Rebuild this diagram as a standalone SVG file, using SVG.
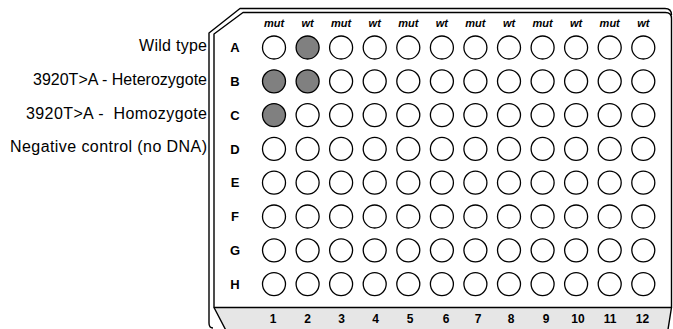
<svg xmlns="http://www.w3.org/2000/svg" width="673" height="329" viewBox="0 0 673 329">
<style>
.frame{fill:none;stroke:#000;stroke-width:1.4;stroke-linejoin:round}
.w{fill:#fff;stroke:#000;stroke-width:1.3}
.f{fill:#808080;stroke:#000;stroke-width:1.3}
.lab{font-family:"Liberation Sans",Arial,sans-serif;font-size:16px;fill:#000;text-anchor:end;white-space:pre}
.row{font-family:"Liberation Sans",Arial,sans-serif;font-size:13px;font-weight:bold;fill:#000;text-anchor:middle}
.col{font-family:"Liberation Sans",Arial,sans-serif;font-size:12px;font-weight:bold;fill:#000;text-anchor:middle}
.gt{font-family:"Liberation Sans",Arial,sans-serif;font-size:11px;font-weight:bold;font-style:italic;fill:#000;text-anchor:middle}
</style>
<rect width="673" height="329" fill="#fff"/>
<g id="plate">
<polygon points="214,307.5 671.5,307.5 668,329 225.5,329" fill="#e6e6e6"/>
<path class="frame" d="M213,328 Q209,328 209,323 L209,33 L240,8.5 L665,8.5 Q671.5,8.5 671.5,15"/>
<path class="frame" d="M214,307.5 L214,34 L243,12.5 L665.5,12.5 Q671.5,12.5 671.5,18.5 L671.5,307.5 Z"/>
<path class="frame" d="M214,307.5 L225.5,329.5 M671.5,307.5 L668,329.5"/>
</g>
<g id="sample-labels">
<text class="lab" x="207" y="51" textLength="68">Wild type</text>
<text class="lab" x="207" y="85" textLength="174">3920T&gt;A - Heterozygote</text>
<text class="lab" x="207" y="118.5" textLength="181">3920T&gt;A -  Homozygote</text>
<text class="lab" x="207" y="152" textLength="197">Negative control (no DNA)</text>
</g>
<g id="genotype-labels">
<text class="gt" x="274" y="26.5">mut</text>
<text class="gt" x="307.6" y="26.5">wt</text>
<text class="gt" x="341.1" y="26.5">mut</text>
<text class="gt" x="374.7" y="26.5">wt</text>
<text class="gt" x="408.3" y="26.5">mut</text>
<text class="gt" x="441.9" y="26.5">wt</text>
<text class="gt" x="475.4" y="26.5">mut</text>
<text class="gt" x="509" y="26.5">wt</text>
<text class="gt" x="542.6" y="26.5">mut</text>
<text class="gt" x="576.1" y="26.5">wt</text>
<text class="gt" x="609.7" y="26.5">mut</text>
<text class="gt" x="643.3" y="26.5">wt</text>
</g>
<g id="row-labels">
<text class="row" x="235" y="52.2">A</text>
<text class="row" x="235" y="86">B</text>
<text class="row" x="235" y="119.8">C</text>
<text class="row" x="235" y="153.6">D</text>
<text class="row" x="235" y="187.4">E</text>
<text class="row" x="235" y="221.2">F</text>
<text class="row" x="235" y="255">G</text>
<text class="row" x="235" y="288.8">H</text>
</g>
<g id="column-labels">
<text class="col" x="273" y="323">1</text>
<text class="col" x="307.6" y="323">2</text>
<text class="col" x="341.5" y="323">3</text>
<text class="col" x="375.5" y="323">4</text>
<text class="col" x="410" y="323">5</text>
<text class="col" x="446" y="323">6</text>
<text class="col" x="478" y="323">7</text>
<text class="col" x="511" y="323">8</text>
<text class="col" x="546" y="323">9</text>
<text class="col" x="578" y="323">10</text>
<text class="col" x="610" y="323">11</text>
<text class="col" x="642.5" y="323">12</text>
</g>
<g id="row-A">
<circle class="w" cx="274" cy="47.5" r="11.5"/><circle class="f" cx="307.6" cy="47.5" r="11.5"/><circle class="w" cx="341.1" cy="47.5" r="11.5"/><circle class="w" cx="374.7" cy="47.5" r="11.5"/><circle class="w" cx="408.3" cy="47.5" r="11.5"/><circle class="w" cx="441.9" cy="47.5" r="11.5"/><circle class="w" cx="475.4" cy="47.5" r="11.5"/><circle class="w" cx="509" cy="47.5" r="11.5"/><circle class="w" cx="542.6" cy="47.5" r="11.5"/><circle class="w" cx="576.1" cy="47.5" r="11.5"/><circle class="w" cx="609.7" cy="47.5" r="11.5"/><circle class="w" cx="643.3" cy="47.5" r="11.5"/>
</g>
<g id="row-B">
<circle class="f" cx="274" cy="81.3" r="11.5"/><circle class="f" cx="307.6" cy="81.3" r="11.5"/><circle class="w" cx="341.1" cy="81.3" r="11.5"/><circle class="w" cx="374.7" cy="81.3" r="11.5"/><circle class="w" cx="408.3" cy="81.3" r="11.5"/><circle class="w" cx="441.9" cy="81.3" r="11.5"/><circle class="w" cx="475.4" cy="81.3" r="11.5"/><circle class="w" cx="509" cy="81.3" r="11.5"/><circle class="w" cx="542.6" cy="81.3" r="11.5"/><circle class="w" cx="576.1" cy="81.3" r="11.5"/><circle class="w" cx="609.7" cy="81.3" r="11.5"/><circle class="w" cx="643.3" cy="81.3" r="11.5"/>
</g>
<g id="row-C">
<circle class="f" cx="274" cy="115.1" r="11.5"/><circle class="w" cx="307.6" cy="115.1" r="11.5"/><circle class="w" cx="341.1" cy="115.1" r="11.5"/><circle class="w" cx="374.7" cy="115.1" r="11.5"/><circle class="w" cx="408.3" cy="115.1" r="11.5"/><circle class="w" cx="441.9" cy="115.1" r="11.5"/><circle class="w" cx="475.4" cy="115.1" r="11.5"/><circle class="w" cx="509" cy="115.1" r="11.5"/><circle class="w" cx="542.6" cy="115.1" r="11.5"/><circle class="w" cx="576.1" cy="115.1" r="11.5"/><circle class="w" cx="609.7" cy="115.1" r="11.5"/><circle class="w" cx="643.3" cy="115.1" r="11.5"/>
</g>
<g id="row-D">
<circle class="w" cx="274" cy="148.9" r="11.5"/><circle class="w" cx="307.6" cy="148.9" r="11.5"/><circle class="w" cx="341.1" cy="148.9" r="11.5"/><circle class="w" cx="374.7" cy="148.9" r="11.5"/><circle class="w" cx="408.3" cy="148.9" r="11.5"/><circle class="w" cx="441.9" cy="148.9" r="11.5"/><circle class="w" cx="475.4" cy="148.9" r="11.5"/><circle class="w" cx="509" cy="148.9" r="11.5"/><circle class="w" cx="542.6" cy="148.9" r="11.5"/><circle class="w" cx="576.1" cy="148.9" r="11.5"/><circle class="w" cx="609.7" cy="148.9" r="11.5"/><circle class="w" cx="643.3" cy="148.9" r="11.5"/>
</g>
<g id="row-E">
<circle class="w" cx="274" cy="182.7" r="11.5"/><circle class="w" cx="307.6" cy="182.7" r="11.5"/><circle class="w" cx="341.1" cy="182.7" r="11.5"/><circle class="w" cx="374.7" cy="182.7" r="11.5"/><circle class="w" cx="408.3" cy="182.7" r="11.5"/><circle class="w" cx="441.9" cy="182.7" r="11.5"/><circle class="w" cx="475.4" cy="182.7" r="11.5"/><circle class="w" cx="509" cy="182.7" r="11.5"/><circle class="w" cx="542.6" cy="182.7" r="11.5"/><circle class="w" cx="576.1" cy="182.7" r="11.5"/><circle class="w" cx="609.7" cy="182.7" r="11.5"/><circle class="w" cx="643.3" cy="182.7" r="11.5"/>
</g>
<g id="row-F">
<circle class="w" cx="274" cy="216.5" r="11.5"/><circle class="w" cx="307.6" cy="216.5" r="11.5"/><circle class="w" cx="341.1" cy="216.5" r="11.5"/><circle class="w" cx="374.7" cy="216.5" r="11.5"/><circle class="w" cx="408.3" cy="216.5" r="11.5"/><circle class="w" cx="441.9" cy="216.5" r="11.5"/><circle class="w" cx="475.4" cy="216.5" r="11.5"/><circle class="w" cx="509" cy="216.5" r="11.5"/><circle class="w" cx="542.6" cy="216.5" r="11.5"/><circle class="w" cx="576.1" cy="216.5" r="11.5"/><circle class="w" cx="609.7" cy="216.5" r="11.5"/><circle class="w" cx="643.3" cy="216.5" r="11.5"/>
</g>
<g id="row-G">
<circle class="w" cx="274" cy="250.3" r="11.5"/><circle class="w" cx="307.6" cy="250.3" r="11.5"/><circle class="w" cx="341.1" cy="250.3" r="11.5"/><circle class="w" cx="374.7" cy="250.3" r="11.5"/><circle class="w" cx="408.3" cy="250.3" r="11.5"/><circle class="w" cx="441.9" cy="250.3" r="11.5"/><circle class="w" cx="475.4" cy="250.3" r="11.5"/><circle class="w" cx="509" cy="250.3" r="11.5"/><circle class="w" cx="542.6" cy="250.3" r="11.5"/><circle class="w" cx="576.1" cy="250.3" r="11.5"/><circle class="w" cx="609.7" cy="250.3" r="11.5"/><circle class="w" cx="643.3" cy="250.3" r="11.5"/>
</g>
<g id="row-H">
<circle class="w" cx="274" cy="284.1" r="11.5"/><circle class="w" cx="307.6" cy="284.1" r="11.5"/><circle class="w" cx="341.1" cy="284.1" r="11.5"/><circle class="w" cx="374.7" cy="284.1" r="11.5"/><circle class="w" cx="408.3" cy="284.1" r="11.5"/><circle class="w" cx="441.9" cy="284.1" r="11.5"/><circle class="w" cx="475.4" cy="284.1" r="11.5"/><circle class="w" cx="509" cy="284.1" r="11.5"/><circle class="w" cx="542.6" cy="284.1" r="11.5"/><circle class="w" cx="576.1" cy="284.1" r="11.5"/><circle class="w" cx="609.7" cy="284.1" r="11.5"/><circle class="w" cx="643.3" cy="284.1" r="11.5"/>
</g>
</svg>
